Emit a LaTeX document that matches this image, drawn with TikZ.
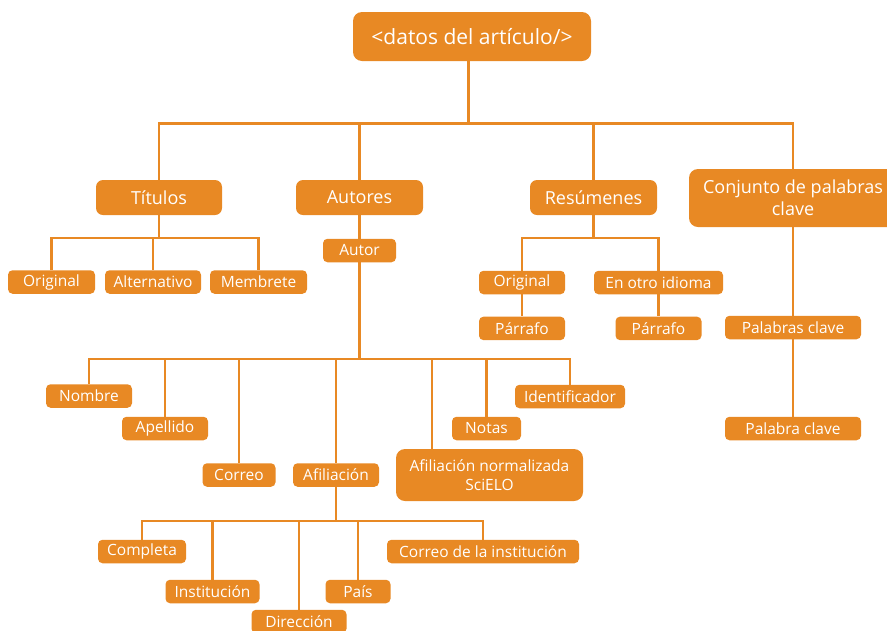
\documentclass[tikz,border=0pt]{standalone}
\usepackage{fontspec}
\setmainfont{Open Sans}
\usetikzlibrary{positioning}
\definecolor{scorange}{RGB}{232,137,36}
\tikzset{
    %Define style for boxes
    rootbox/.style={
           rectangle,
           rounded corners=9pt,
           fill=scorange,
           text=white,
           minimum width=238pt,
           minimum height=49pt,
           font=\fontsize{21}{24}\selectfont,
           text centered,
           },
    groupbox/.style={
           rectangle,
           rounded corners=7pt,
           fill=scorange,
           text=white,
           minimum height=35pt,
           inner sep=1pt,
           font=\fontsize{18}{22}\selectfont,
           align=center,
           },
    leafbox/.style={
           rectangle,
           rounded corners=4.5pt,
           fill=scorange,
           text=white,
           minimum height=23.5pt,
           inner sep=1pt,
           font=\fontsize{15.5}{18.3}\selectfont,
           align=center,
           },
    % Define connector style
    link/.style={
           draw=scorange,
           line width=2.4pt,}
}
\begin{document}
\begin{tikzpicture}[x=1pt,y=-1pt]
\useasboundingbox (0,0) rectangle (887,630);

 %buses
\coordinate (bus0) at (0,123.5);
\coordinate (bus1) at (0,238);
\coordinate (busautor) at (0,359);
\coordinate (busafil) at (0,521);

 %nodes
\node[rootbox] (raiz) at (472,36.5) {<datos del artículo/>};
\node[groupbox, minimum width=126pt] (titulos) at (159,197.5) {Títulos};
\node[groupbox, minimum width=127pt] (autores) at (359.5,197.5) {Autores};
\node[groupbox, minimum width=127pt] (resumenes) at (593.5,197.5) {Resúmenes};
\node[groupbox, minimum width=208pt, minimum height=58pt, rounded corners=9pt] (conjunto) at (793,198) {Conjunto de palabras\\clave};

\node[leafbox, minimum width=87pt] (torig) at (51.5,282) {Original};
\node[leafbox, minimum width=96pt] (talt) at (153,282) {Alternativo};
\node[leafbox, minimum width=97pt] (tmemb) at (258.5,282) {Membrete};

\node[leafbox, minimum width=73pt] (autor) at (359.5,250.5) {Autor};
\node[leafbox, minimum width=86pt] (nombre) at (89,396) {Nombre};
\node[leafbox, minimum width=86pt] (apellido) at (165,428.5) {Apellido};
\node[leafbox, minimum width=73pt] (correo) at (239,475) {Correo};
\node[leafbox, minimum width=86pt] (afiliacion) at (336,475) {Afiliación};
\node[leafbox, minimum width=187pt, minimum height=52pt, rounded corners=9pt] (afilnorm) at (489.5,475) {Afiliación normalizada\\SciELO};
\node[leafbox, minimum width=69pt] (notas) at (486.5,428.5) {Notas};
\node[leafbox, minimum width=110pt] (identificador) at (570,396.5) {Identificador};

\node[leafbox, minimum width=88pt] (completa) at (142,551.5) {Completa};
\node[leafbox, minimum width=94pt] (institucion) at (212.5,591.5) {Institución};
\node[leafbox, minimum width=95pt] (direccion) at (299,621.5) {Dirección};
\node[leafbox, minimum width=65pt] (pais) at (358,591.5) {País};
\node[leafbox, minimum width=192pt] (correoinst) at (483,551.5) {Correo de la institución};

\node[leafbox, minimum width=86pt] (rorig) at (522,282.5) {Original};
\node[leafbox, minimum width=129pt] (rotro) at (658.5,282.5) {En otro idioma};
\node[leafbox, minimum width=86pt, below=22pt of rorig] (rparrafo) {Párrafo};
\node[leafbox, minimum width=86pt, below=22pt of rotro] (oparrafo) {Párrafo};

\node[leafbox, minimum width=136pt] (palabras) at (793,327.5) {Palabras clave};
\node[leafbox, minimum width=136pt] (palabra) at (793,428.5) {Palabra clave};

 %connectors
\foreach \c in {titulos,autores,resumenes,conjunto}
    \draw[link] ([xshift=-3.5pt]raiz.south) -- ([xshift=-3.5pt]raiz.south |- bus0) -| (\c.north);
\foreach \c in {torig,talt,tmemb}
    \draw[link] (titulos.south) -- (titulos.south |- bus1) -| (\c.north);
\foreach \c in {rorig,rotro}
    \draw[link] (resumenes.south) -- (resumenes.south |- bus1) -| (\c.north);
\foreach \c in {nombre,apellido,correo,afiliacion,notas,identificador}
    \draw[link] (autor.south) -- (autor.south |- busautor) -| (\c.north);
\draw[link] (autor.south) -- (autor.south |- busautor) -| ([xshift=-57.5pt]afilnorm.north);
\foreach \c in {completa,institucion,direccion,pais,correoinst}
    \draw[link] (afiliacion.south) -- (afiliacion.south |- busafil) -| (\c.north);
\draw[link] (autores) -- (autor);
\draw[link] (rorig) -- (rparrafo);
\draw[link] (rotro) -- (oparrafo);
\draw[link] (conjunto) -- (palabras);
\draw[link] (palabras) -- (palabra);

\end{tikzpicture}
\end{document}
